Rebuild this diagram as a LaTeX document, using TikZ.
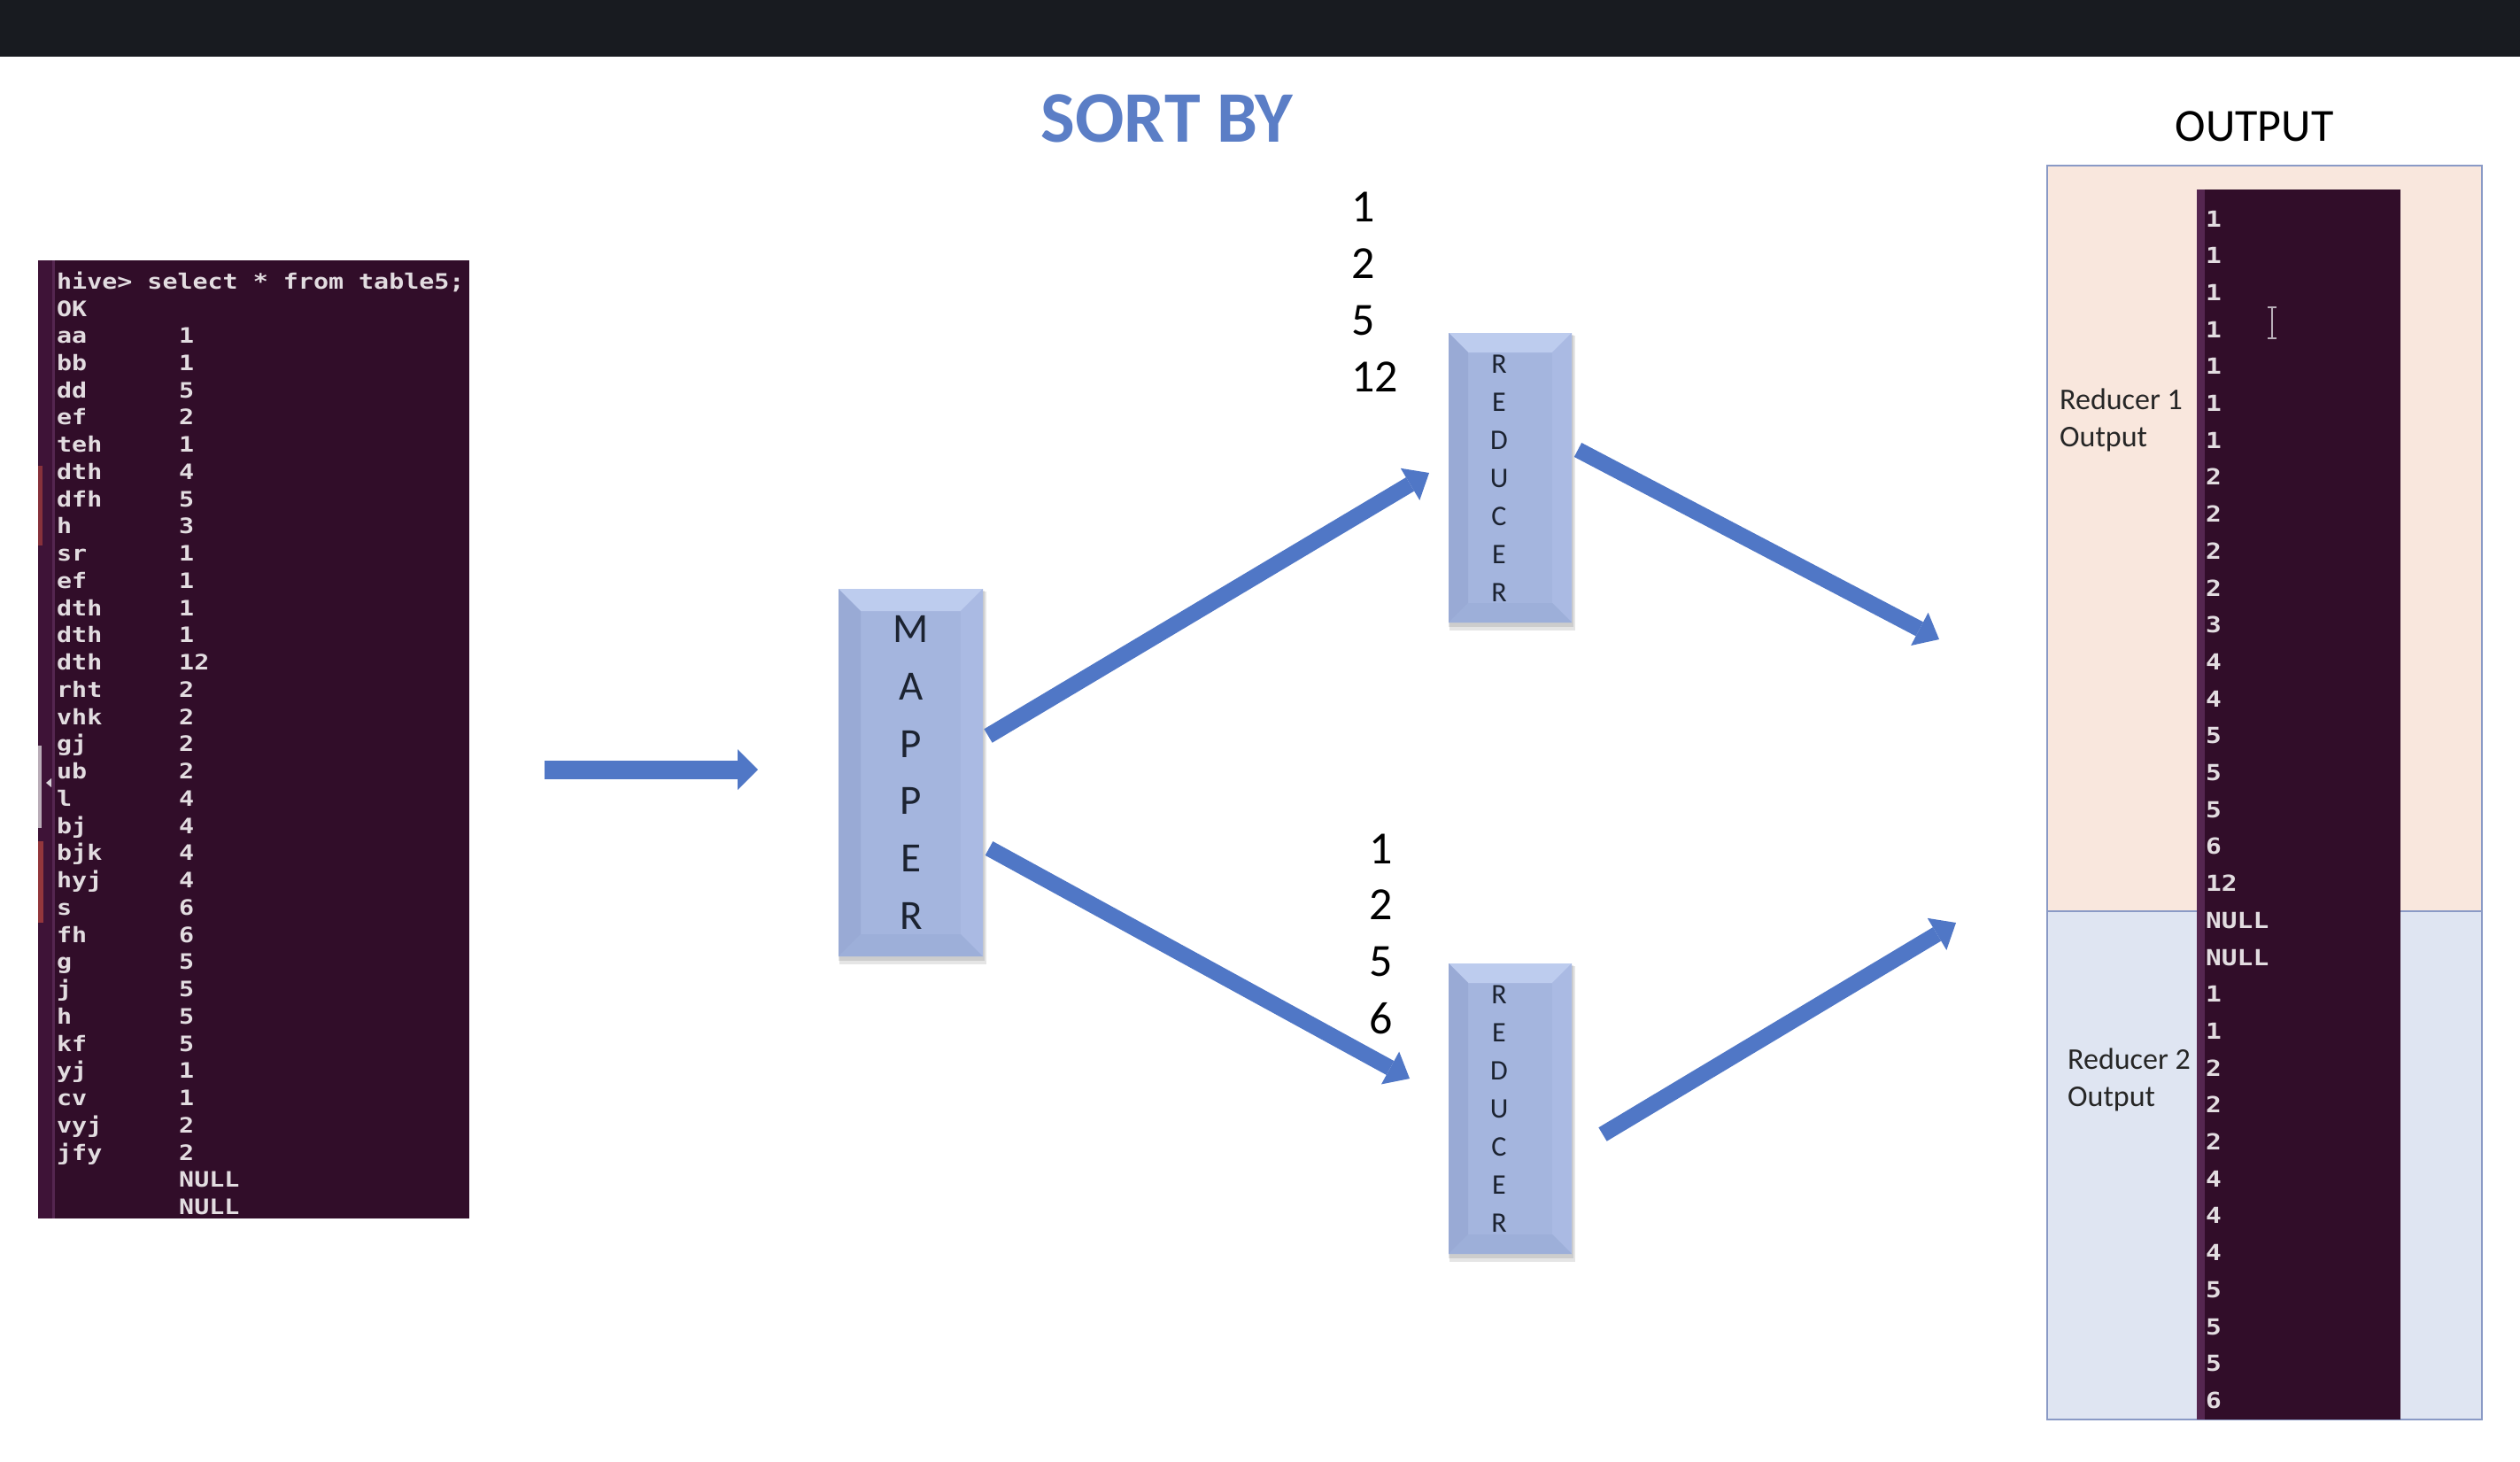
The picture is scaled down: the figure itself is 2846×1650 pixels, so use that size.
\documentclass[tikz,border=0pt]{standalone}
\usepackage{fontspec}
\setmainfont{Carlito}
\newfontfamily\termfont[FakeStretch=1.18]{DejaVu Sans Mono}
\usetikzlibrary{arrows.meta}

\definecolor{topbar}{HTML}{181B20}
\definecolor{termbg}{HTML}{310D29}
\definecolor{termstrip}{HTML}{3E1337}
\definecolor{termline}{HTML}{552650}
\definecolor{termtext}{HTML}{E2DCE0}
\definecolor{arrowc}{HTML}{5077C6}
\definecolor{titleblue}{HTML}{5B7EC6}
\definecolor{facec}{HTML}{A4B5DE}
\definecolor{topc}{HTML}{BDCCEE}
\definecolor{leftc}{HTML}{99AAD5}
\definecolor{rightc}{HTML}{AABAE3}
\definecolor{botc}{HTML}{9DAFD9}
\definecolor{peach}{HTML}{F9E7DD}
\definecolor{paleblue}{HTML}{DFE5F2}
\definecolor{panelborder}{HTML}{8A9AC6}
\definecolor{inktext}{HTML}{1C2331}
\definecolor{cursorc}{HTML}{B8AEB8}
\definecolor{launchred}{HTML}{B8463F}
\definecolor{launchwhite}{HTML}{D8D2D8}

% bevelled box: x1, y1, x2, y2, inset
\newcommand{\bevbox}[5]{%
  \fill[black,opacity=.10] (#1+1,#2+3) rectangle (#3+4,#4+9);
  \fill[black,opacity=.10] (#1,#2+2) rectangle (#3+2,#4+5);
  \fill[facec] (#1,#2) rectangle (#3,#4);
  \fill[topc] (#1,#2) -- (#3,#2) -- (#3-#5,#2+#5) -- (#1+#5,#2+#5) -- cycle;
  \fill[leftc] (#1,#2) -- (#1+#5,#2+#5) -- (#1+#5,#4-#5) -- (#1,#4) -- cycle;
  \fill[rightc] (#3,#2) -- (#3-#5,#2+#5) -- (#3-#5,#4-#5) -- (#3,#4) -- cycle;
  \fill[botc] (#1,#4) -- (#1+#5,#4-#5) -- (#3-#5,#4-#5) -- (#3,#4) -- cycle;
}

\tikzset{
  termtxt/.style={inner sep=0pt, text=termtext, font=\termfont\bfseries\fontsize{24}{30}\selectfont},
  outtxt/.style={inner sep=0pt, text=termtext, font=\termfont\bfseries\fontsize{25}{30}\selectfont},
  blockarrow/.style={draw=arrowc, line width=18pt, line cap=butt,
    -{Triangle[length=25pt,width=42pt,line width=0pt]}},
  inarrow/.style={draw=arrowc, line width=21pt, line cap=butt,
    -{Triangle[length=23pt,width=46pt,line width=0pt]}},
  mapperbox/.style={inner sep=0pt, align=center, text=inktext,
    font=\fontsize{47}{64.8}\selectfont},
  reducerbox/.style={inner sep=0pt, align=center, text=inktext,
    font=\fontsize{32}{43}\selectfont},
  numtxt/.style={inner sep=0pt, text=black, font=\fontsize{52}{60}\selectfont},
  lbltxt/.style={inner sep=0pt, text=black!85, font=\fontsize{34}{42}\selectfont},
}

\begin{document}
\begin{tikzpicture}[x=1pt,y=-1pt]
\useasboundingbox (0,0) rectangle (2846,1650);
\fill[white] (0,0) rectangle (2846,1650);
\fill[topbar] (0,0) rectangle (2846,64);

% titles
\node[inner sep=0pt, text=titleblue, font=\bfseries\fontsize{82}{90}\selectfont] (title) at (1318,134) {SORT BY};
\node[inner sep=0pt, text=black, font=\fontsize{52}{60}\selectfont] (outtitle) at (2546,143) {OUTPUT};

% ---------- input terminal ----------
\fill[termbg] (43,294) rectangle (530,1376);
\fill[termstrip] (43,294) rectangle (59,1376);
\fill[termline] (59,294) rectangle (62,1376);
\fill[launchred,opacity=.6] (43,526) rectangle (48,616);
\fill[launchwhite,opacity=.8] (43,842) rectangle (47,935);
\fill[launchred,opacity=.7] (43,950) rectangle (49,1042);
\fill[launchwhite] (52,884) -- (58,879) -- (58,889) -- cycle;

\node[termtxt, anchor=base west] (hive) at (64,326) {hive> select * from table5;};
\node[termtxt, anchor=base west] (ok) at (64,357) {OK};
\foreach \nm/\vl [count=\i from 0] in {aa/1,bb/1,dd/5,ef/2,teh/1,dth/4,dfh/5,h/3,sr/1,ef/1,dth/1,dth/1,dth/12,rht/2,vhk/2,gj/2,ub/2,l/4,bj/4,bjk/4,hyj/4,s/6,fh/6,g/5,j/5,h/5,kf/5,yj/1,cv/1,vyj/2,jfy/2,/NULL,/NULL} {
  \node[termtxt, anchor=base west] (tn\i) at (64,387.5+\i*30.75) {\nm};
  \node[termtxt, anchor=base west] (tv\i) at (202,387.5+\i*30.75) {\vl};
}

% ---------- mapper and reducers ----------
\bevbox{947}{665}{1110}{1080}{25}
\node[mapperbox, minimum width=163pt, minimum height=415pt] (mapper) at (1029,872.5) {M\\A\\P\\P\\E\\R};

\bevbox{1636}{376}{1775}{703}{22}
\node[reducerbox, minimum width=139pt, minimum height=327pt] (red1) at (1693,540) {R\\E\\D\\U\\C\\E\\R};

\bevbox{1636}{1088}{1775}{1416}{22}
\node[reducerbox, minimum width=139pt, minimum height=328pt] (red2) at (1693,1252) {R\\E\\D\\U\\C\\E\\R};

% number lists
\foreach \v/\y [count=\i] in {1/234,2/298,5/362,12/426}
  \node[numtxt, anchor=west] (na\i) at (1526,\y) {\v};
\foreach \v/\y [count=\i] in {1/959,2/1022,5/1086,6/1150}
  \node[numtxt, anchor=west] (nb\i) at (1546,\y) {\v};

% ---------- output panel ----------
\fill[peach] (2312,187) rectangle (2803,1029);
\fill[paleblue] (2312,1029) rectangle (2803,1603);
\draw[panelborder, line width=2.5pt] (2312,1029) -- (2803,1029);
\draw[panelborder, line width=2.5pt] (2312,187) rectangle (2803,1603);
\fill[termbg] (2481,214) rectangle (2711,1603);
\fill[termline] (2481,214) rectangle (2490,1603);

\node[lbltxt, anchor=base west] (r1a) at (2326,462) {Reducer 1};
\node[lbltxt, anchor=base west] (r1b) at (2326,504) {Output};
\node[lbltxt, anchor=base west] (r2a) at (2335,1207) {Reducer 2};
\node[lbltxt, anchor=base west] (r2b) at (2335,1249) {Output};

\foreach \vl [count=\i from 0] in {1,1,1,1,1,1,1,2,2,2,2,3,4,4,5,5,5,6,12,NULL,NULL,1,1,2,2,2,4,4,4,5,5,5,6}
  \node[outtxt, anchor=base west] (o\i) at (2491,256+\i*41.7) {\vl};

% text cursor
\draw[cursorc, line width=2.5pt] (2566,347) -- (2566,382);
\draw[cursorc, line width=2pt] (2561,347) -- (2571,347) (2561,382) -- (2571,382);

% ---------- arrows ----------
\coordinate (inS) at (615,869);
\coordinate (inE) at (856,869);
\coordinate (m1S) at (1116,831);
\coordinate (m1E) at (1614,534);
\coordinate (m2S) at (1117,958);
\coordinate (m2E) at (1592,1218);
\coordinate (o1S) at (1782,508);
\coordinate (o1E) at (2190,722);
\coordinate (o2S) at (1810,1281);
\coordinate (o2E) at (2209,1042);

\draw[inarrow] (inS) -- (inE);
\draw[blockarrow] (m1S) -- (m1E);
\draw[blockarrow] (m2S) -- (m2E);
\draw[blockarrow] (o1S) -- (o1E);
\draw[blockarrow] (o2S) -- (o2E);
\end{tikzpicture}
\end{document}
